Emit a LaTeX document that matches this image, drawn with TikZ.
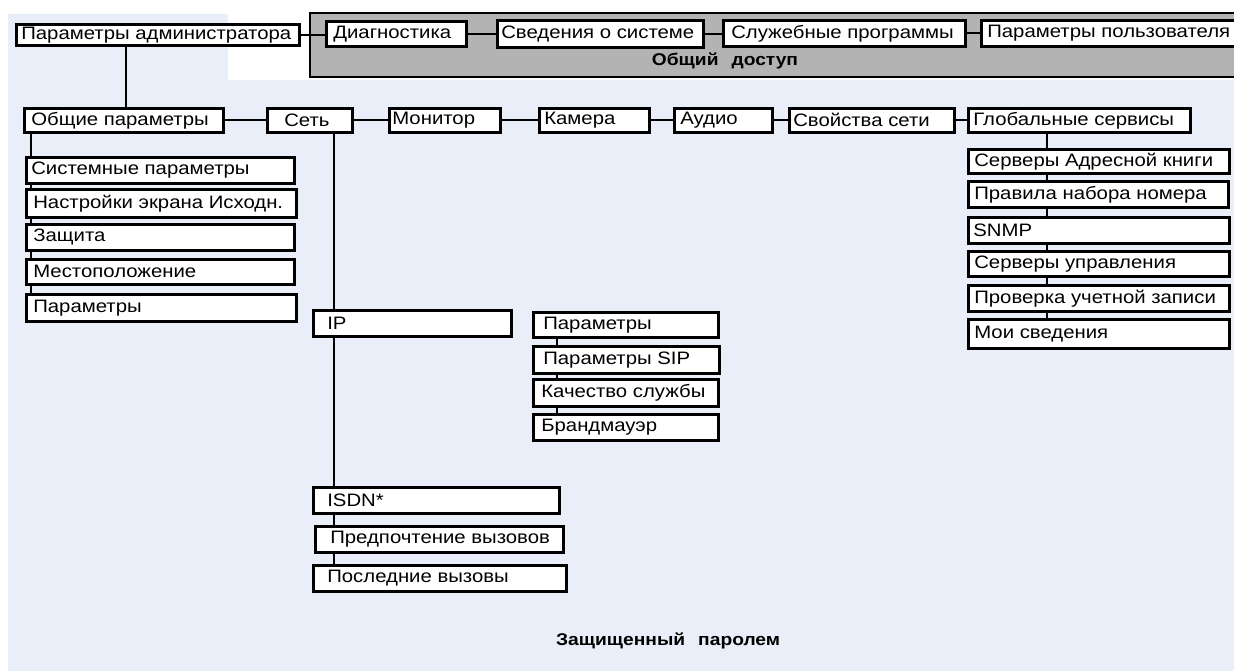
\documentclass[tikz,border=0pt]{standalone}
\usepackage{fontspec}
\setmainfont{Liberation Sans}[FakeStretch=1.13]
\usetikzlibrary{calc}
\pgfdeclarelayer{back}
\pgfdeclarelayer{lines}
\pgfsetlayers{back,lines,main}
\definecolor{bluebg}{HTML}{EAEEF9}
\definecolor{graybg}{HTML}{B3B3B3}
\newcommand{\bx}[7]{%
  \pgfmathsetmacro\bxw{#4-#2-2*#6}%
  \pgfmathsetmacro\bxh{#5-#3}%
  \node[box, inner xsep=#6pt, minimum height=\bxh pt, anchor=north west] (#1) at (#2,-#3) {\makebox[\bxw pt][l]{#7}};}
\begin{document}
\begin{tikzpicture}[x=1pt,y=1pt,
  box/.style={draw, line width=2.6pt, fill=white, inner ysep=0pt, font=\fontsize{18}{20}\selectfont},
  conn/.style={line width=2pt},
  title/.style={font=\fontsize{17}{20}\selectfont\bfseries, inner sep=0pt}]
\useasboundingbox (0,0) rectangle (1234,-671);
\begin{pgfonlayer}{back}
  \fill[bluebg] (8,-14) -- (228,-14) -- (228,-80) -- (1234,-80) -- (1234,-671) -- (8,-671) -- cycle;
  \draw[fill=graybg, line width=2pt] (310,-13) rectangle (1245,-77);
\end{pgfonlayer}
% top row
\bx{admin}{15}{23}{298}{44}{5}{Параметры администратора}
\bx{diag}{325}{20}{465}{45}{7}{Диагностика}
\bx{sys}{496}{19}{702}{46}{4}{Сведения о системе}
\bx{util}{722}{19}{964}{45}{8}{Служебные программы}
\bx{user}{980}{19}{1250}{45}{6}{Параметры пользователя}
\node[title] (common) at (725,-61) {Общий\hspace{0.45em} доступ};
% second row
\bx{gen}{23}{107}{222}{131}{7}{Общие параметры}
\bx{net}{266}{107}{351}{131}{17}{Сеть}
\bx{mon}{388}{107}{499}{131}{3}{Монитор}
\bx{cam}{538}{107}{648}{131}{5}{Камера}
\bx{aud}{673}{107}{771}{131}{6}{Аудио}
\bx{nprop}{788}{107}{953}{131}{4}{Свойства сети}
\bx{glob}{967}{107}{1189}{131}{5}{Глобальные сервисы}
% general column
\bx{c1}{25}{156}{293}{182}{5}{Системные параметры}
\bx{c2}{25}{188}{295}{216}{7}{Настройки экрана Исходн.}
\bx{c3}{25}{223}{293}{249}{7}{Защита}
\bx{c4}{25}{258}{293}{283}{7}{Местоположение}
\bx{c5}{25}{293}{295}{320}{7}{Параметры}
% network column
\bx{ip}{312}{309}{510}{335}{14}{IP}
\bx{isdn}{312}{486}{558}{512}{14}{ISDN*}
\bx{pref}{314}{525}{562}{551}{15}{Предпочтение вызовов}
\bx{last}{312}{564}{565}{590}{14}{Последние вызовы}
% IP children
\bx{ipa}{532}{311}{717}{336}{10}{Параметры}
\bx{ipb}{532}{345}{718}{372}{10}{Параметры SIP}
\bx{ipc}{532}{378}{717}{405}{8}{Качество службы}
\bx{ipd}{532}{413}{717}{439}{8}{Брандмауэр}
% global services children
\bx{ga}{967}{148}{1228}{172}{6}{Серверы Адресной книги}
\bx{gb}{967}{180}{1227}{206}{6}{Правила набора номера}
\bx{gc}{967}{216}{1228}{242}{5}{SNMP}
\bx{gd}{967}{250}{1228}{275}{6}{Серверы управления}
\bx{ge}{967}{284}{1228}{310}{6}{Проверка учетной записи}
\bx{gf}{967}{318}{1228}{347}{6}{Мои сведения}
\node[title, anchor=west] (prot) at (556,-641) {Защищенный\hspace{0.45em} паролем};
\begin{pgfonlayer}{lines}
  \draw[conn] (admin.east) -- (admin.east -| diag.west);
  \draw[conn] (diag.east) -- (diag.east -| sys.west);
  \draw[conn] (sys.east) -- (sys.east -| util.west);
  \draw[conn] (util.east) -- (util.east -| user.west);
  \draw[conn] (gen.east) -- (gen.east -| net.west);
  \draw[conn] (net.east) -- (net.east -| mon.west);
  \draw[conn] (mon.east) -- (mon.east -| cam.west);
  \draw[conn] (cam.east) -- (cam.east -| aud.west);
  \draw[conn] (aud.east) -- (aud.east -| nprop.west);
  \draw[conn] (nprop.east) -- (nprop.east -| glob.west);
  \draw[conn] ([xshift=111pt]admin.south west) -- ([xshift=111pt]admin.south west |- gen.north);
  \draw[conn] ([xshift=8pt]gen.south west) -- ([xshift=8pt]gen.south west |- c5.north);
  \draw[conn] ([xshift=68pt]net.south west) -- ([xshift=68pt]net.south west |- last.north);
  \draw[conn] ([xshift=25pt]ipa.south west) -- ([xshift=25pt]ipa.south west |- ipd.north);
  \draw[conn] ([xshift=80pt]glob.south west) -- ([xshift=80pt]glob.south west |- gf.north);
\end{pgfonlayer}
\end{tikzpicture}
\end{document}
